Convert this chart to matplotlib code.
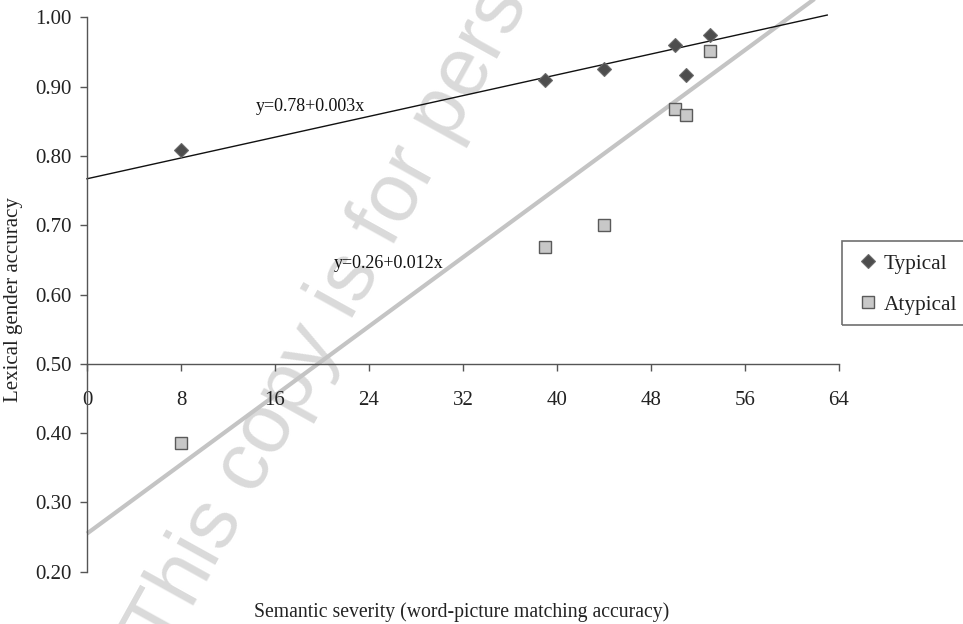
import matplotlib
matplotlib.use("Agg")
import matplotlib.pyplot as plt
from matplotlib.patches import Rectangle
import numpy as np

# ---- data ----
typical_x = [8, 39, 44, 50, 51, 53]
typical_y = [0.808, 0.910, 0.925, 0.960, 0.917, 0.975]
atypical_x = [8, 39, 44, 50, 51, 53]
atypical_y = [0.386, 0.668, 0.700, 0.868, 0.859, 0.951]

# trend lines as drawn (intercept, slope) and x extent
typical_fit = (0.767, 0.00375)
typical_fit_x = [0, 63]
atypical_fit = (0.255, 0.01246)
atypical_fit_x = [0, 64]

typical_label = "y=0.78+0.003x"
atypical_label = "y=0.26+0.012x"
x_ticks = [0, 8, 16, 24, 32, 40, 48, 56, 64]
y_ticks = [0.20, 0.30, 0.40, 0.50, 0.60, 0.70, 0.80, 0.90, 1.00]
x_label = "Semantic severity (word-picture matching accuracy)"
y_label = "Lexical gender accuracy"
watermark = "This copy is for personal use"

plt.rcParams['font.family'] = ['Liberation Serif', 'DejaVu Serif']

W, H = 963, 624
fig = plt.figure(figsize=(W / 100, H / 100), dpi=100)
# axes: x 0..64 -> px 87..839 ; y 0.20..1.00 -> px 571.7..17.3
ax = fig.add_axes([87 / W, 1 - 571.7 / H, (839 - 87) / W, (571.7 - 17.3) / H])
ax.set_xlim(0, 64)
ax.set_ylim(0.20, 1.00)
ax.patch.set_visible(False)

# watermark
fig.text(167 / W, 1 - 655 / H, watermark, rotation=61, rotation_mode='anchor',
         ha='left', va='baseline', fontsize=60, color='#dadada',
         family=['Liberation Sans', 'DejaVu Sans'], zorder=-1)

# trend lines
ta, tb = typical_fit
xs = np.array(typical_fit_x, dtype=float)
ax.plot(xs, ta + tb * xs, color='#111111', lw=1.0, zorder=2, clip_on=False)
aa, ab = atypical_fit
xs2 = np.array(atypical_fit_x, dtype=float)
ax.plot(xs2, aa + ab * xs2, color='#c4c4c4', lw=3.0, zorder=1.5, clip_on=False,
        solid_capstyle='butt')

# points
ax.plot(typical_x, typical_y, linestyle='none', marker='D', ms=7.5,
        mfc='#4d4d4d', mec='#6a6a6a', mew=0.8, zorder=4, clip_on=False,
        label='Typical')
ax.plot(atypical_x, atypical_y, linestyle='none', marker='s', ms=9,
        mfc='#c8c8c8', mec='#5a5a5a', mew=1.0, zorder=3, clip_on=False,
        label='Atypical')

# equation labels
ax.text(14.4, 0.871, typical_label, fontsize=13, color='#111111',
        ha='left', va='center', zorder=5)
ax.text(21.0, 0.645, atypical_label, fontsize=13, color='#111111',
        ha='left', va='center', zorder=5)

# spines
for s in ['top', 'right']:
    ax.spines[s].set_visible(False)
ax.spines['bottom'].set_position(('data', 0.50))
ax.spines['left'].set_color('#555555')
ax.spines['bottom'].set_color('#555555')
ax.spines['left'].set_linewidth(1.0)
ax.spines['bottom'].set_linewidth(1.0)

ax.set_xticks(x_ticks)
ax.set_xticklabels([str(v) for v in x_ticks])
ax.set_yticks(y_ticks)
ax.set_yticklabels([f"{v:.2f}" for v in y_ticks])
ax.tick_params(axis='x', direction='out', length=5, width=1.0, color='#555555',
               pad=14.5, labelsize=15, labelcolor='#222222')
ax.tick_params(axis='y', direction='out', length=5, width=1.0, color='#555555',
               pad=6, labelsize=15, labelcolor='#222222')

fig.text(462 / W, 1 - 612 / H, x_label, ha='center', va='center',
         fontsize=14.2, color='#222222')
fig.text(14 / W, 1 - 300 / H, y_label, ha='center', va='center',
         rotation=90, fontsize=15, color='#222222')

# legend
fig.patches.append(Rectangle((841.7 / W, 1 - 325 / H), 140 / W, 84 / H,
                             transform=fig.transFigure, fill=False,
                             edgecolor='#707070', lw=1.2))
leg = fig.legend(loc='upper left', bbox_to_anchor=(861 / W, 1 - 254 / H),
                 frameon=False, fontsize=15.3, handlelength=0.7,
                 handletextpad=0.35, labelspacing=0.98, borderpad=0,
                 borderaxespad=0)
for t in leg.get_texts():
    t.set_color('#222222')

fig.savefig("out.png", dpi=100)
